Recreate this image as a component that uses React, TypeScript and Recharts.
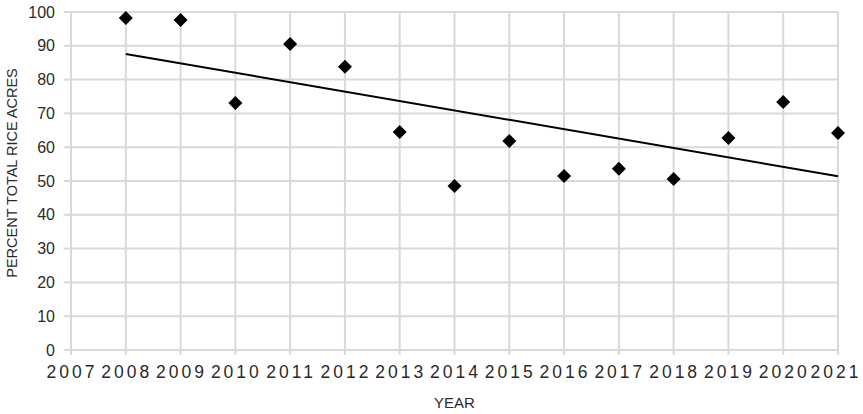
import { ScatterChart, Scatter, XAxis, YAxis, CartesianGrid, Label } from 'recharts';

const years = [2008, 2009, 2010, 2011, 2012, 2013, 2014, 2015, 2016, 2017, 2018, 2019, 2020, 2021];
const percents = [98.2, 97.6, 73.1, 90.5, 83.8, 64.5, 48.5, 61.8, 51.5, 53.6, 50.6, 62.7, 73.4, 64.2];
const trendYears = [2008, 2021];
const trendValues = [87.6, 51.4];
const xTicks = [2007, 2008, 2009, 2010, 2011, 2012, 2013, 2014, 2015, 2016, 2017, 2018, 2019, 2020, 2021];
const yTicks = [0, 10, 20, 30, 40, 50, 60, 70, 80, 90, 100];

const points = years.map((year, i) => ({ year, pct: percents[i] }));
const trend = trendYears.map((year, i) => ({ year, pct: trendValues[i] }));

const font = '"Liberation Sans", Arial, sans-serif';
const textColor = '#2b2b2b';
const gridColor = '#d9d9d9';

const Diamond = (props: any) => {
  const { cx, cy } = props;
  const r = 7;
  return <polygon points={`${cx},${cy - r} ${cx + r},${cy} ${cx},${cy + r} ${cx - r},${cy}`} fill="#000" />;
};

const XTick = (props: any) => {
  const { x, payload } = props;
  // last label is nudged inward a bit so it stays on the page
  const dx = payload.value === 2021 ? -2 : 1;
  return (
    <text x={x + dx} y={378} textAnchor="middle" fill={textColor} fontSize={17.5} fontFamily={font} letterSpacing={3}>
      {payload.value}
    </text>
  );
};

const YLabel = () => (
  <text x={17} y={173} transform="rotate(-90 17 173)" textAnchor="middle" fill={textColor} fontSize={14.5} fontFamily={font}>
    PERCENT TOTAL RICE ACRES
  </text>
);

export default function App() {
  return (
    <div style={{ position: 'absolute', left: 0, top: 0, background: '#fff' }}>
      <ScatterChart width={863} height={414} margin={{ top: 12, right: 25, bottom: 24, left: 31 }}>
        <CartesianGrid stroke={gridColor} strokeWidth={2} />
        <XAxis
          type="number"
          dataKey="year"
          domain={[2007, 2021]}
          ticks={xTicks}
          interval={0}
          axisLine={{ stroke: gridColor, strokeWidth: 2 }}
          tickLine={{ stroke: gridColor, strokeWidth: 2 }}
          tickSize={5}
          height={40}
          tick={<XTick />}
        >
          <Label value="YEAR" position="insideBottom" offset={-18} fill={textColor} fontSize={15} fontFamily={font} />
        </XAxis>
        <YAxis
          type="number"
          dataKey="pct"
          domain={[0, 100]}
          ticks={yTicks}
          interval={0}
          width={40}
          axisLine={false}
          tickLine={{ stroke: gridColor, strokeWidth: 2 }}
          tickSize={7}
          tickMargin={9}
          tick={{ fill: textColor, fontSize: 16, fontFamily: font }}
        >
          <Label content={<YLabel />} />
        </YAxis>
        <Scatter data={trend} line={{ stroke: '#000', strokeWidth: 2 }} shape={() => <g />} isAnimationActive={false} />
        <Scatter data={points} shape={<Diamond />} isAnimationActive={false} />
      </ScatterChart>
    </div>
  );
}
